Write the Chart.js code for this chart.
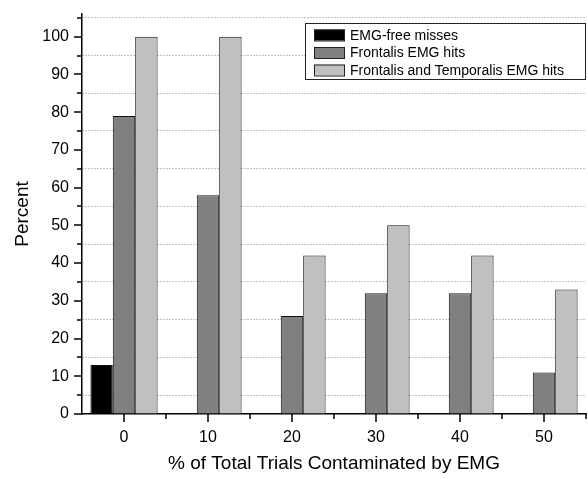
<!DOCTYPE html>
<html>
<head>
<meta charset="utf-8">
<script src="https://cdn.jsdelivr.net/npm/chart.js@4.4.1/dist/chart.umd.min.js"></script>
<style>
  html, body { margin: 0; padding: 0; background: #fff; }
  #wrap { width: 588px; height: 479px; }
</style>
</head>
<body>
<div id="wrap"><canvas id="chart" width="588" height="479"></canvas></div>
<script>
// data
const categories = ['0', '10', '20', '30', '40', '50'];
const emgFreeMisses = [13, 0, 0, 0, 0, 0];
const frontalisHits = [79, 58, 26, 32, 32, 11];
const frontalisTemporalisHits = [100, 100, 42, 50, 42, 33];
const seriesLabels = ['EMG-free misses', 'Frontalis EMG hits', 'Frontalis and Temporalis EMG hits'];
const yTickValues = [0, 5, 10, 15, 20, 25, 30, 35, 40, 45, 50, 55, 60, 65, 70, 75, 80, 85, 90, 95, 100, 105];

Chart.defaults.font.family = '"Liberation Sans", Arial, sans-serif';
Chart.defaults.color = '#000';

// tick marks: long ones on the labels, short ones in between
const tickMarks = {
    id: 'tickMarks',
    afterDraw(chart) {
        const ctx = chart.ctx;
        const { x, y } = chart.scales;
        const area = chart.chartArea;
        ctx.save();
        ctx.strokeStyle = '#000';
        ctx.lineWidth = 1.5;
        ctx.beginPath();
        yTickValues.forEach(v => {
            const py = Math.round(y.getPixelForValue(v));
            const len = v % 10 === 0 ? 8 : 5;
            ctx.moveTo(area.left - len, py);
            ctx.lineTo(area.left, py);
        });
        for (let i = 0; i < categories.length; i++) {
            const px = x.getPixelForValue(i);
            ctx.moveTo(px, area.bottom);
            ctx.lineTo(px, area.bottom + 8);
        }
        const step = x.getPixelForValue(1) - x.getPixelForValue(0);
        for (let i = 0; i < categories.length; i++) {
            const px = x.getPixelForValue(i) + step / 2;
            ctx.moveTo(px, area.bottom);
            ctx.lineTo(px, area.bottom + 5);
        }
        ctx.stroke();
        ctx.restore();
    }
};

// legend box sitting inside the plot, top right
const boxLegend = {
    id: 'boxLegend',
    afterDraw(chart) {
        const ctx = chart.ctx;
        const area = chart.chartArea;
        const w = 280, h = 56;
        const left = area.right - w - 1;
        const top = area.top + 9;
        ctx.save();
        ctx.fillStyle = '#fff';
        ctx.fillRect(left, top, w, h);
        ctx.strokeStyle = '#222';
        ctx.lineWidth = 1;
        ctx.strokeRect(left + 0.5, top + 0.5, w, h);
        ctx.font = '14px "Liberation Sans", Arial, sans-serif';
        ctx.textBaseline = 'middle';
        chart.data.datasets.forEach((ds, i) => {
            const cy = top + 12 + i * 17.5;
            ctx.fillStyle = ds.backgroundColor;
            ctx.fillRect(left + 9, cy - 5.5, 31, 11);
            ctx.strokeStyle = '#222';
            ctx.strokeRect(left + 9.5, cy - 5, 30, 11);
            ctx.fillStyle = '#000';
            ctx.fillText(ds.label, left + 45, cy + 1);
        });
        ctx.restore();
    }
};

new Chart(document.getElementById('chart'), {
    type: 'bar',
    data: {
        labels: categories,
        datasets: [
            { label: seriesLabels[0], data: emgFreeMisses, backgroundColor: '#000000' },
            { label: seriesLabels[1], data: frontalisHits, backgroundColor: '#808080' },
            { label: seriesLabels[2], data: frontalisTemporalisHits, backgroundColor: '#c0c0c0' }
        ].map(ds => Object.assign(ds, {
            borderColor: '#111',
            borderWidth: 1,
            categoryPercentage: 0.8,
            barPercentage: 1.0
        }))
    },
    options: {
        responsive: false,
        animation: false,
        layout: { padding: { top: 14, right: 2, left: 0, bottom: 0 } },
        plugins: {
            legend: { display: false },
            tooltip: { enabled: false }
        },
        scales: {
            x: {
                grid: { display: false, drawTicks: false },
                border: { color: '#000', width: 1.5 },
                ticks: { font: { size: 16 }, padding: 14 },
                title: {
                    display: true,
                    text: '% of Total Trials Contaminated by EMG',
                    font: { size: 19 },
                    padding: { top: 4, bottom: 4 }
                },
                afterFit(scale) {
                    scale.height = 65;
                    scale.paddingLeft = 0;
                    scale.paddingRight = 0;
                }
            },
            y: {
                min: 0,
                max: 106,
                afterBuildTicks(scale) {
                    scale.ticks = yTickValues.map(v => ({ value: v }));
                },
                ticks: {
                    font: { size: 16 },
                    padding: 13,
                    autoSkip: false,
                    callback: v => (v % 10 === 0 ? v : '')
                },
                grid: {
                    drawTicks: false,
                    lineWidth: 1,
                    color: c => (c.tick && c.tick.value % 10 !== 0 ? '#888' : 'rgba(0,0,0,0)')
                },
                border: { color: '#000', width: 1.5, dash: [1, 2] },
                title: {
                    display: true,
                    text: 'Percent',
                    font: { size: 19 },
                    padding: { top: 11, bottom: 4 }
                },
                afterFit(scale) {
                    scale.width = 82;
                    scale.paddingTop = 0;
                    scale.paddingBottom = 0;
                }
            }
        }
    },
    plugins: [tickMarks, boxLegend]
});
</script>
</body>
</html>
